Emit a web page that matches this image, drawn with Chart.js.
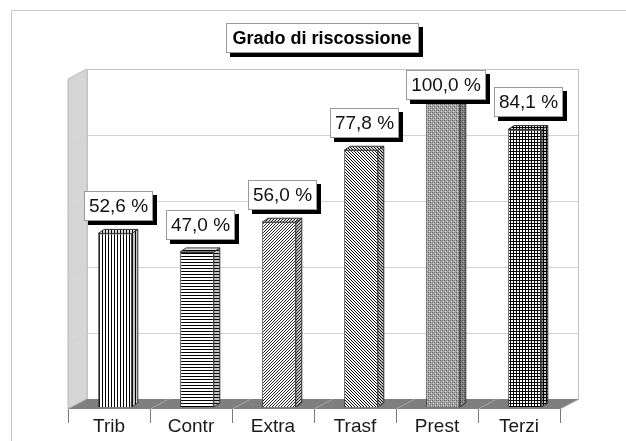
<!DOCTYPE html>
<html>
<head>
<meta charset="utf-8">
<script src="https://cdn.jsdelivr.net/npm/chart.js@4/dist/chart.umd.min.js"></script>
<style>
  html,body{margin:0;padding:0;background:#fff;}
  canvas{display:block;}
</style>
</head>
<body>
<canvas id="c" width="626" height="441"></canvas>
<script>
/* data */
var categories=['Trib','Contr','Extra','Trasf','Prest','Terzi'];
var values=[52.6,47.0,56.0,77.8,100.0,84.1];
var yTicks=[0,20,40,60,80,100];
var titleText='Grado di riscossione';

var FONT="'Liberation Sans', Arial, sans-serif";
var DX=19,DY=10;       /* wall depth */
var BX=6,BY=2;         /* bar shift inside depth */
var SX=6,SY=4;         /* bar side/top face */

/* fill patterns, one per category */
function mkPat(w,h,bg,px){
  var cv=document.createElement('canvas');cv.width=w;cv.height=h;
  var g=cv.getContext('2d');g.fillStyle=bg;g.fillRect(0,0,w,h);
  px.forEach(function(p){g.fillStyle=p[2]||'#000';g.fillRect(p[0],p[1],1,1);});
  return g.createPattern(cv,'repeat');
}
function lineV(){return mkPat(3,1,'#fff',[[0,0]]);}
function lineH(){return mkPat(1,3,'#fff',[[0,0]]);}
function diag(up,col){
  var px=[];
  for(var y=0;y<3;y++)px.push([up?(2-y):y,y,col]);
  return mkPat(3,3,'#fff',px);
}
function trellis(){return mkPat(4,4,'#a6a6a6',[[0,0,'#5e5e5e'],[2,2,'#5e5e5e'],[1,3,'#dcdcdc'],[3,1,'#dcdcdc'],[2,0,'#7c7c7c'],[0,2,'#7c7c7c']]);}
function grid(){
  var px=[];for(var i=0;i<3;i++){px.push([i,0]);px.push([0,i]);}
  return mkPat(3,3,'#fff',px);
}
var pats=[lineV(),lineH(),diag(true,'#222'),diag(false,'#000'),trellis(),grid()];

function fmt(v){return v.toFixed(1).replace('.',',')+' %';}

function shadowBox(ctx,x,y,w,h){
  ctx.fillStyle='#000';ctx.fillRect(x+4,y+4,w,h);
  ctx.fillStyle='#fff';ctx.fillRect(x,y,w,h);
  ctx.strokeStyle='#9a9a9a';ctx.lineWidth=1;ctx.strokeRect(x+0.5,y+0.5,w-1,h-1);
}

var scene={
  id:'scene',
  beforeDatasetsDraw:function(ch){
    var ctx=ch.ctx,a=ch.chartArea,ys=ch.scales.y;
    var L=a.left,R=a.right,T=a.top,B=a.bottom;
    ctx.save();
    /* outer frame */
    ctx.strokeStyle='#c8c8c8';ctx.lineWidth=1;
    ctx.strokeRect(11.5,10.5,700,500);
    /* side wall */
    ctx.fillStyle='#d6d6d6';
    ctx.beginPath();ctx.moveTo(L,T);ctx.lineTo(L+DX,T-DY);ctx.lineTo(L+DX,B-DY);ctx.lineTo(L,B);ctx.closePath();ctx.fill();
    ctx.strokeStyle='#bdbdbd';ctx.stroke();
    /* back wall + grid */
    ctx.fillStyle='#fff';ctx.fillRect(L+DX,T-DY,R-L,B-T);
    ctx.strokeStyle='#d2d2d2';
    yTicks.forEach(function(v){
      var y=Math.round(ys.getPixelForValue(v))+0.5;
      ctx.beginPath();ctx.moveTo(L,y);ctx.lineTo(L+DX,y-DY);ctx.lineTo(R+DX,y-DY);ctx.stroke();
    });
    ctx.strokeStyle='#c4c4c4';
    ctx.beginPath();ctx.moveTo(L+DX+0.5,B-DY);ctx.lineTo(L+DX+0.5,T-DY+0.5);ctx.lineTo(R+DX-0.5,T-DY+0.5);ctx.lineTo(R+DX-0.5,B-DY);ctx.stroke();
    ctx.beginPath();ctx.moveTo(L+0.5,B);ctx.lineTo(L+0.5,T);ctx.lineTo(L+DX,T-DY);ctx.stroke();
    /* floor */
    ctx.fillStyle='#7f7f7f';
    ctx.beginPath();ctx.moveTo(L,B);ctx.lineTo(L+DX,B-DY);ctx.lineTo(R+DX,B-DY);ctx.lineTo(R,B);ctx.closePath();ctx.fill();
    var step=(R-L)/categories.length;
    ctx.strokeStyle='#a6a6a6';
    for(var i=0;i<=categories.length;i++){
      var bx=L+i*step;
      ctx.beginPath();ctx.moveTo(bx,B);ctx.lineTo(bx+DX,B-DY);ctx.stroke();
    }
    ctx.restore();
    /* bars sit a little inside the depth */
    ctx.save();ctx.translate(BX,-BY);
  },
  afterDatasetsDraw:function(ch){
    var ctx=ch.ctx,a=ch.chartArea,xs=ch.scales.x;
    var meta=ch.getDatasetMeta(0);
    /* 3d faces of each bar (still translated) */
    meta.data.forEach(function(b,i){
      var l=b.x-b.width/2,r=b.x+b.width/2,t=b.y,bs=b.base;
      ctx.fillStyle=pats[i];
      ctx.beginPath();ctx.moveTo(r,bs);ctx.lineTo(r,t);ctx.lineTo(r+SX,t-SY);ctx.lineTo(r+SX,bs-SY);ctx.closePath();ctx.fill();
      ctx.fillStyle='rgba(0,0,0,0.22)';ctx.fill();
      ctx.strokeStyle='#333';ctx.lineWidth=1;ctx.stroke();
      ctx.fillStyle=pats[i];
      ctx.beginPath();ctx.moveTo(l,t);ctx.lineTo(r,t);ctx.lineTo(r+SX,t-SY);ctx.lineTo(l+SX,t-SY);ctx.closePath();ctx.fill();
      ctx.fillStyle='rgba(0,0,0,0.12)';ctx.fill();
      ctx.stroke();
    });
    ctx.restore();
    ctx.save();
    /* value labels */
    ctx.font='19px '+FONT;ctx.textBaseline='middle';ctx.textAlign='center';
    meta.data.forEach(function(b,i){
      var s=fmt(values[i]);
      var w=Math.round(ctx.measureText(s).width)+10,h=30;
      var cx=b.x+BX+3;
      var y=Math.max(70,Math.round(b.y-BY-12-h));
      var x=Math.round(cx-w/2);
      shadowBox(ctx,x,y,w,h);
      ctx.fillStyle='#111';ctx.fillText(s,x+w/2,y+h/2+1);
    });
    /* category ticks and labels */
    var L=a.left,R=a.right,B=a.bottom,step=(R-L)/categories.length;
    ctx.strokeStyle='#7a7a7a';
    for(var k=0;k<=categories.length;k++){
      var tx=Math.round(L+k*step)+0.5;
      ctx.beginPath();ctx.moveTo(tx,B);ctx.lineTo(tx,B+14);ctx.stroke();
    }
    ctx.font='19px '+FONT;ctx.textBaseline='alphabetic';ctx.fillStyle='#1a1a1a';
    categories.forEach(function(c,i){
      ctx.fillText(c,xs.getPixelForValue(i),432);
    });
    /* title */
    ctx.font='bold 18px '+FONT;
    var tw=Math.round(ctx.measureText(titleText).width)+14;
    var tx0=Math.round(322-tw/2);
    shadowBox(ctx,tx0,23,tw,30);
    ctx.fillStyle='#000';ctx.textBaseline='middle';
    ctx.fillText(titleText,322,39);
    ctx.restore();
  }
};

new Chart(document.getElementById('c'),{
  type:'bar',
  data:{labels:categories,datasets:[{
    data:values,backgroundColor:pats,borderColor:'#333',borderWidth:1,
    barPercentage:0.41,categoryPercentage:1
  }]},
  options:{
    responsive:false,animation:false,devicePixelRatio:1,
    layout:{padding:{left:68,right:66,top:79,bottom:32}},
    scales:{
      x:{display:false},
      y:{display:false,min:0,max:100}
    },
    plugins:{legend:{display:false},tooltip:{enabled:false},title:{display:false}}
  },
  plugins:[scene]
});
</script>
</body>
</html>
